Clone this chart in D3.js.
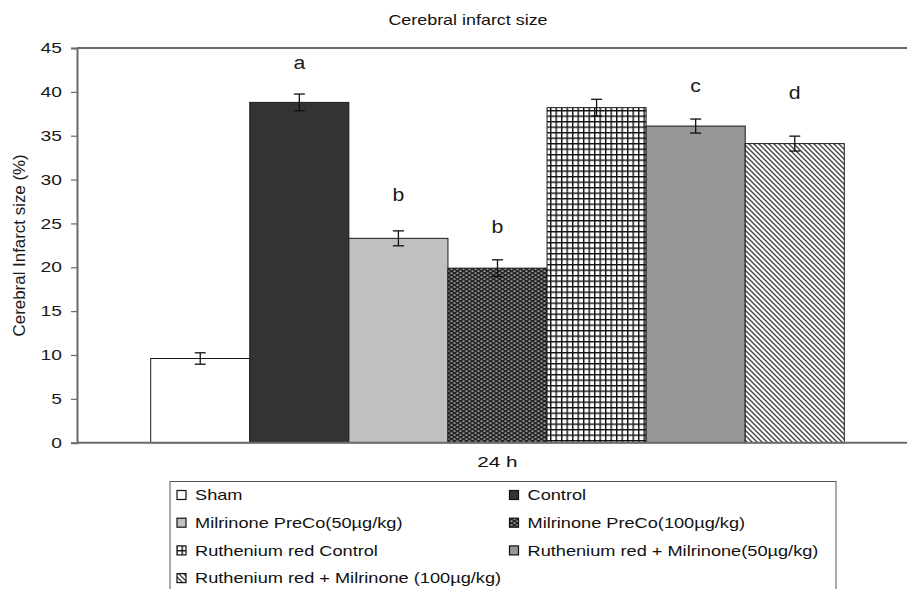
<!DOCTYPE html>
<html>
<head>
<meta charset="utf-8">
<script src="https://cdn.jsdelivr.net/npm/d3@7"></script>
<style>
  html, body { margin: 0; padding: 0; background: #fff; }
  svg { display: block; font-family: "Liberation Sans", Arial, sans-serif; }
</style>
</head>
<body>
<svg id="chart" width="907" height="589"></svg>
<script>
// ---- data ----
const categories = ["Sham", "Control", "Milrinone PreCo(50\u00b5g/kg)", "Milrinone PreCo(100\u00b5g/kg)",
  "Ruthenium red Control", "Ruthenium red + Milrinone(50\u00b5g/kg)", "Ruthenium red + Milrinone (100\u00b5g/kg)"];
const values = [9.6, 38.8, 23.3, 19.9, 38.2, 36.1, 34.1];
const errors = [0.65, 0.95, 0.85, 0.95, 0.95, 0.8, 0.85];
const letters = ["", "a", "b", "b", "", "c", "d"];
const letterPos = [null, 42.6, 27.5, 23.9, null, 40.0, 39.2];
const yTicks = [0, 5, 10, 15, 20, 25, 30, 35, 40, 45];
const groupLabel = "24 h";
const title = "Cerebral infarct size";
const yTitle = "Cerebral Infarct size (%)";
const fills = ["#ffffff", "#333333", "#c0c0c0", "url(#pChecker)", "url(#pGrid)", "#969696", "url(#pDiag)"];

const svg = d3.select("#chart");
const W = 907, H = 589;
const plot = { left: 77, right: 918, top: 48, bottom: 442.7 };

// patterns
const defs = svg.append("defs");
const pc = defs.append("pattern").attr("id", "pChecker").attr("patternUnits", "userSpaceOnUse")
  .attr("width", 6).attr("height", 4);
pc.append("rect").attr("width", 6).attr("height", 4).attr("fill", "#262626");
pc.append("rect").attr("x", 0.5).attr("y", 0.5).attr("width", 2).attr("height", 1.2).attr("fill", "#c8c8c8");
pc.append("rect").attr("x", 3.5).attr("y", 2.5).attr("width", 2).attr("height", 1.2).attr("fill", "#c8c8c8");

const pg = defs.append("pattern").attr("id", "pGrid").attr("patternUnits", "userSpaceOnUse")
  .attr("width", 5.5).attr("height", 5.5);
pg.append("rect").attr("width", 5.5).attr("height", 5.5).attr("fill", "#fff");
pg.append("rect").attr("width", 1.4).attr("height", 5.5).attr("fill", "#111");
pg.append("rect").attr("width", 5.5).attr("height", 1.4).attr("fill", "#111");

const pd = defs.append("pattern").attr("id", "pDiag").attr("patternUnits", "userSpaceOnUse")
  .attr("width", 5).attr("height", 5);
pd.append("rect").attr("width", 5).attr("height", 5).attr("fill", "#fff");
pd.append("path").attr("d", "M-1,-1 L6,6 M-1,4 L1,6 M4,-1 L6,1").attr("stroke", "#444").attr("stroke-width", 1.4);

// scales
const y = d3.scaleLinear().domain([0, 45]).range([plot.bottom, plot.top]);
const x = d3.scaleBand().domain(categories).range([150.7, 844.3]).padding(0);

function stretchText(g, px, py, sx, sy) {
  return g.append("text").attr("transform", `translate(${px},${py}) scale(${sx},${sy || 1})`);
}

// title
stretchText(svg, 468, 25, 1.28).attr("text-anchor", "middle").attr("font-size", 14).attr("fill", "#111").text(title);

// plot frame line (top)
svg.append("line").attr("x1", plot.left).attr("x2", W).attr("y1", plot.top).attr("y2", plot.top)
  .attr("stroke", "#6a6a6a").attr("stroke-width", 2);

// bars
svg.append("g").selectAll("rect").data(categories).join("rect")
  .attr("x", d => x(d)).attr("width", x.bandwidth())
  .attr("y", (d, i) => y(values[i])).attr("height", (d, i) => y(0) - y(values[i]))
  .attr("fill", (d, i) => fills[i]).attr("stroke", "#1a1a1a").attr("stroke-width", 1);

// error bars
const eb = svg.append("g").attr("stroke", "#111").attr("stroke-width", 1.3);
categories.forEach((c, i) => {
  const cx = x(c) + x.bandwidth() / 2;
  eb.append("line").attr("x1", cx).attr("x2", cx).attr("y1", y(values[i] - errors[i])).attr("y2", y(values[i] + errors[i]));
  [values[i] - errors[i], values[i] + errors[i]].forEach(v =>
    eb.append("line").attr("x1", cx - 5.5).attr("x2", cx + 5.5).attr("y1", y(v)).attr("y2", y(v)));
});

// significance letters
categories.forEach((c, i) => {
  if (!letters[i]) return;
  stretchText(svg, x(c) + x.bandwidth() / 2, y(letterPos[i]), 1.12).attr("text-anchor", "middle")
    .attr("font-size", 19).attr("fill", "#1a1a1a").text(letters[i]);
});

// y axis
const yAxis = svg.append("g").attr("transform", `translate(${plot.left},0)`)
  .call(d3.axisLeft(y).tickValues(yTicks).tickSize(6).tickFormat(""));
yAxis.select(".domain").attr("stroke", "#6a6a6a").attr("stroke-width", 2);
yAxis.selectAll(".tick line").attr("stroke", "#6a6a6a").attr("stroke-width", 1.2);
yTicks.forEach(t => {
  stretchText(svg, 62, y(t) + 5.2, 1.33).attr("text-anchor", "end").attr("font-size", 14.5).attr("fill", "#1a1a1a").text(t);
});

// x axis line
svg.append("line").attr("x1", plot.left).attr("x2", W).attr("y1", plot.bottom).attr("y2", plot.bottom)
  .attr("stroke", "#6a6a6a").attr("stroke-width", 2);
stretchText(svg, (x.range()[0] + x.range()[1]) / 2, 467, 1.38).attr("text-anchor", "middle")
  .attr("font-size", 15).attr("fill", "#111").text(groupLabel);

// y title
svg.append("text").attr("transform", `translate(25,${(plot.top + plot.bottom) / 2}) rotate(-90)`)
  .attr("text-anchor", "middle").attr("font-size", 16.9).attr("fill", "#1a1a1a").text(yTitle);

// legend
const lg = svg.append("g");
lg.append("rect").attr("x", 170).attr("y", 481.5).attr("width", 666).attr("height", 140)
  .attr("fill", "#fff").attr("stroke", "#555").attr("stroke-width", 1);
categories.forEach((c, i) => {
  const col = i % 2, row = Math.floor(i / 2);
  const sx = col === 0 ? 177 : 509.5;
  const cy = 495 + row * 27.7;
  lg.append("rect").attr("x", sx).attr("y", cy - 4.5).attr("width", 9).attr("height", 9)
    .attr("fill", fills[i]).attr("stroke", "#111").attr("stroke-width", 1.2);
  stretchText(lg, sx + 18, cy + 5.3, 1.3).attr("font-size", 14).attr("fill", "#111").text(c);
});
</script>
</body>
</html>
